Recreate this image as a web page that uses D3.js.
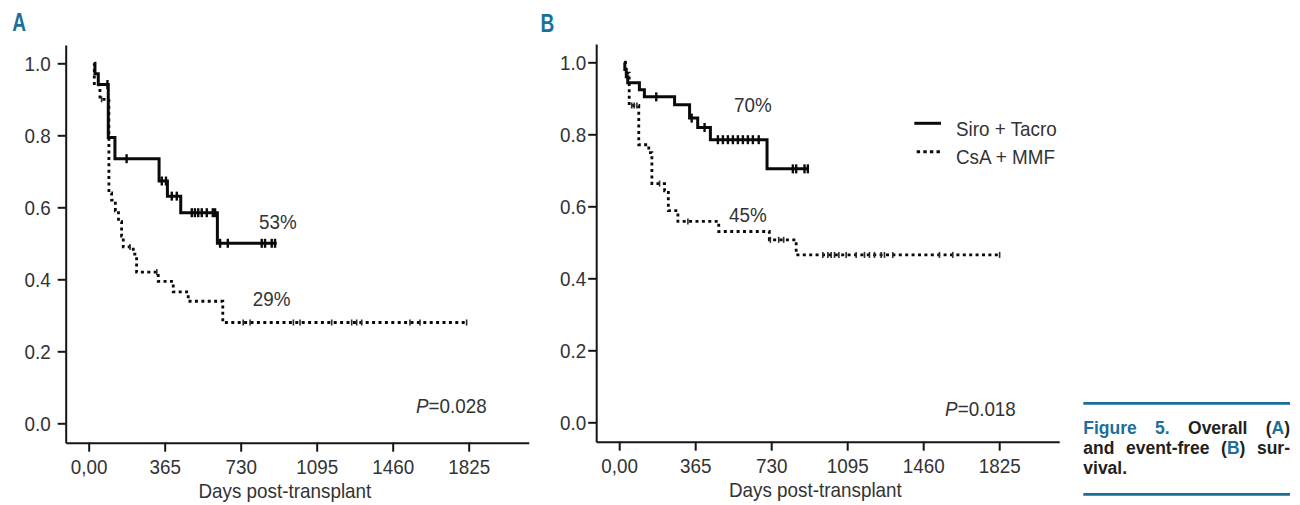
<!DOCTYPE html>
<html>
<head>
<meta charset="utf-8">
<script src="https://cdn.jsdelivr.net/npm/d3@7"></script>
<style>
  body { margin: 0; background: #fff; }
  svg { display: block; }
  text { font-family: 'Liberation Sans', Arial, Helvetica, sans-serif; }
</style>
</head>
<body>
<svg id="fig" width="1300" height="505"></svg>
<script>
// ---------- axis ticks ----------
const dayTicks = [0, 365, 730, 1095, 1460, 1825];
const dayTickLabels = ["0,00", "365", "730", "1095", "1460", "1825"];
const survTicks = [0, 0.2, 0.4, 0.6, 0.8, 1.0];
const survTickLabels = ["0.0", "0.2", "0.4", "0.6", "0.8", "1.0"];

// ---------- A: overall survival (Kaplan-Meier steps) ----------
// times: day at which each level starts; surv: survival level from that day on
const osSiroTimes = [28, 30, 46, 94, 126, 338, 378, 442, 618];
const osSiroSurv  = [1.0, 0.971, 0.941, 0.794, 0.735, 0.673, 0.631, 0.585, 0.50];
const osSiroLast  = 903;
const osSiroCensored = [90, 182, 351, 371, 399, 423, 495, 510, 526, 543, 567, 596, 607, 631, 668, 831, 847, 879, 895];

const osCsaTimes = [24, 27, 54, 97, 110, 128, 143, 158, 166, 214, 230, 334, 406, 478, 644];
const osCsaSurv  = [1.0, 0.94, 0.90, 0.64, 0.62, 0.59, 0.56, 0.52, 0.49, 0.47, 0.42, 0.394, 0.365, 0.339, 0.28];
const osCsaLast  = 1815;
const osCsaCensored = [62, 198, 327, 742, 775, 983, 1015, 1167, 1263, 1287, 1311, 1543, 1591, 1815];

// ---------- B: event-free survival ----------
const efsSiroTimes = [25, 27, 34, 41, 97, 121, 266, 338, 377, 438, 710];
const efsSiroSurv  = [1.0, 0.98, 0.96, 0.943, 0.924, 0.904, 0.882, 0.845, 0.819, 0.785, 0.704];
const efsSiroLast  = 906;
const efsSiroCensored = [178, 348, 410, 474, 498, 522, 546, 570, 594, 618, 642, 670, 834, 850, 890, 906];

const efsCsaTimes = [24, 30, 48, 94, 142, 157, 218, 236, 282, 478, 721, 850];
const efsCsaSurv  = [1.0, 0.97, 0.88, 0.771, 0.749, 0.663, 0.643, 0.588, 0.558, 0.530, 0.507, 0.465];
const efsCsaLast  = 1827;
const efsCsaCensored = [60, 72, 85, 194, 330, 726, 766, 790, 978, 1002, 1018, 1034, 1055, 1090, 1138, 1178, 1202, 1226, 1258, 1274, 1314, 1538, 1602, 1827];

const groupNames = ["Siro + Tacro", "CsA + MMF"];

// ---------- styling ----------
const INK = "#333";
const AXIS = "#151515";
const CURVE = "#0a0a0a";
const BLUE = "#1b6f9a";
const CAPTION_INK = "#231f20";
const FS = 20.5;      // base font size
const SX = 0.92;      // horizontal squeeze for a condensed look

const svg = d3.select("#fig");
svg.append("rect").attr("width", 1300).attr("height", 505).attr("fill", "#fff");

// common frame geometry (panel A coordinates; B is shifted)
const frame = { left: 65.7, right: 528.7, zeroX: 88.7, top: 45, bottom: 442.7, zeroY: 423.3, pxPerDay: 380 / 1825, pxPerUnit: 360 };

const panels = [
  {
    letter: "A", dx: 0, dy: 0, yLabelGap: 15, letterPos: [12.3, 30.7],
    series: [
      { times: osSiroTimes, surv: osSiroSurv, last: osSiroLast, cens: osSiroCensored, dotted: false },
      { times: osCsaTimes, surv: osCsaSurv, last: osCsaLast, cens: osCsaCensored, dotted: true }
    ],
    notes: [ { text: "53%", day: 818, s: 0.539 }, { text: "29%", day: 788, s: 0.326 } ],
    pval: { text: "=0.028", day: 1572, s: 0.029 },
    legend: false
  },
  {
    letter: "B", dx: 530.5, dy: -1, yLabelGap: 10, letterPos: [540.5, 32.4],
    series: [
      { times: efsSiroTimes, surv: efsSiroSurv, last: efsSiroLast, cens: efsSiroCensored, dotted: false },
      { times: efsCsaTimes, surv: efsCsaSurv, last: efsCsaLast, cens: efsCsaCensored, dotted: true }
    ],
    notes: [ { text: "70%", day: 551, s: 0.861 }, { text: "45%", day: 527, s: 0.557 } ],
    pval: { text: "=0.018", day: 1565, s: 0.0175 },
    legend: true
  }
];

function squeezedText(g, x, y, str, anchor) {
  return g.append("text")
    .attr("transform", `translate(${x},${y}) scale(${SX},1)`)
    .attr("text-anchor", anchor || "start")
    .attr("font-size", FS)
    .attr("fill", INK)
    .text(str);
}

function levelAt(times, surv, t) {
  let v = surv[0];
  for (let i = 0; i < times.length; i++) if (times[i] <= t) v = surv[i];
  return v;
}

panels.forEach(p => {
  const g = svg.append("g");
  const x = d3.scaleLinear()
    .domain([(frame.left - frame.zeroX) / frame.pxPerDay, (frame.right - frame.zeroX) / frame.pxPerDay])
    .range([frame.left + p.dx, frame.right + p.dx]);
  const y = d3.scaleLinear()
    .domain([(frame.zeroY - frame.bottom) / frame.pxPerUnit, (frame.zeroY - frame.top) / frame.pxPerUnit])
    .range([frame.bottom + p.dy, frame.top + p.dy]);

  // panel letter
  g.append("text")
    .attr("transform", `translate(${p.letterPos[0]},${p.letterPos[1]}) scale(0.72,1)`)
    .attr("font-size", 26.5).attr("font-weight", "bold").attr("fill", BLUE)
    .text(p.letter);

  // x axis
  const xa = g.append("g")
    .attr("transform", `translate(0,${y.range()[0]})`)
    .call(d3.axisBottom(x).tickValues(dayTicks).tickFormat((d, i) => dayTickLabels[i]).tickSize(9).tickSizeOuter(0));
  xa.select(".domain").attr("stroke", AXIS).attr("stroke-width", 2);
  xa.selectAll(".tick line").attr("stroke", AXIS).attr("stroke-width", 2);
  xa.selectAll(".tick text")
    .attr("y", 31).attr("dy", 0)
    .attr("transform", `scale(${SX},1)`)
    .attr("font-size", FS).attr("font-family", "'Liberation Sans', Arial, sans-serif").attr("fill", INK);

  // y axis
  const ya = g.append("g")
    .attr("transform", `translate(${x.range()[0]},0)`)
    .call(d3.axisLeft(y).tickValues(survTicks).tickFormat((d, i) => survTickLabels[i]).tickSize(8).tickSizeOuter(0));
  ya.select(".domain").attr("stroke", AXIS).attr("stroke-width", 2);
  ya.selectAll(".tick line").attr("stroke", AXIS).attr("stroke-width", 2);
  ya.selectAll(".tick text")
    .attr("x", -p.yLabelGap / SX).attr("dy", "0.36em")
    .attr("transform", `scale(${SX},1)`)
    .attr("font-size", FS).attr("font-family", "'Liberation Sans', Arial, sans-serif").attr("fill", INK);

  // x axis title
  squeezedText(g, x(942), y.range()[0] + 55, "Days post-transplant", "middle");

  // survival curves
  const line = d3.line().x(d => x(d[0])).y(d => y(d[1])).curve(d3.curveStepAfter);
  p.series.forEach(s => {
    const pts = s.times.map((t, i) => [t, s.surv[i]]);
    pts.push([s.last, s.surv[s.surv.length - 1]]);
    const path = g.append("path").datum(pts)
      .attr("d", line).attr("fill", "none").attr("stroke", CURVE);
    if (s.dotted) {
      path.attr("stroke-width", 2.8).attr("stroke-dasharray", "3 3.4");
    } else {
      path.attr("stroke-width", 3).attr("stroke-linejoin", "miter");
    }
    // censoring ticks
    g.append("g").selectAll("line").data(s.cens).join("line")
      .attr("x1", d => x(d)).attr("x2", d => x(d))
      .attr("y1", d => y(levelAt(s.times, s.surv, d)) - (s.dotted ? 3 : 4.5))
      .attr("y2", d => y(levelAt(s.times, s.surv, d)) + (s.dotted ? 3 : 4.5))
      .attr("stroke", s.dotted ? "#2a2a2a" : CURVE)
      .attr("stroke-width", s.dotted ? 1.6 : 2.4);
  });

  // percentage notes
  p.notes.forEach(n => squeezedText(g, x(n.day), y(n.s), n.text, "start"));

  // log-rank p value
  const pt = squeezedText(g, x(p.pval.day), y(p.pval.s), "", "start");
  pt.append("tspan").attr("font-style", "italic").text("P");
  pt.append("tspan").text(p.pval.text);

  // legend
  if (p.legend) {
    const lx = x.range()[0] + 318.1;
    const lg = g.append("g");
    const rows = [ { y: 123.3, dotted: false }, { y: 151.7, dotted: true } ];
    rows.forEach((r, i) => {
      const ly = r.y + p.dy + 1;
      lg.append("line")
        .attr("x1", r.dotted ? lx + 2.4 : lx).attr("x2", lx + 26.7)
        .attr("y1", ly).attr("y2", ly)
        .attr("stroke", CURVE).attr("stroke-width", 3)
        .attr("stroke-dasharray", r.dotted ? "3.4 3.2" : null);
      squeezedText(lg, lx + 41.7, ly + 12.5, groupNames[i], "start");
    });
  }
});

// ---------- figure caption ----------
const cap = svg.append("g");
const capX0 = 1083.3, capX1 = 1290;
cap.append("line").attr("x1", capX0).attr("x2", capX1).attr("y1", 403.3).attr("y2", 403.3)
  .attr("stroke", BLUE).attr("stroke-width", 2.7);
cap.append("line").attr("x1", capX0).attr("x2", capX1).attr("y1", 494.3).attr("y2", 494.3)
  .attr("stroke", BLUE).attr("stroke-width", 2.7);

const capLines = [
  { y: 434.3, justify: true, words: [ [["Figure", BLUE]], [["5.", BLUE]], [["Overall", CAPTION_INK]], [["(", CAPTION_INK], ["A", BLUE], [")", CAPTION_INK]] ] },
  { y: 454.2, justify: true, words: [ [["and", CAPTION_INK]], [["event-free", CAPTION_INK]], [["(", CAPTION_INK], ["B", BLUE], [")", CAPTION_INK]], [["sur-", CAPTION_INK]] ] },
  { y: 474.0, justify: false, words: [ [["vival.", CAPTION_INK]] ] }
];
capLines.forEach(l => {
  const nodes = l.words.map(w => {
    const t = cap.append("text").attr("y", l.y).attr("x", 0)
      .attr("font-size", 17.5).attr("font-weight", "bold");
    w.forEach(seg => t.append("tspan").attr("fill", seg[1]).text(seg[0]));
    return t;
  });
  const widths = nodes.map(n => n.node().getComputedTextLength());
  const total = d3.sum(widths);
  const gap = (l.justify && nodes.length > 1) ? (capX1 - capX0 - total) / (nodes.length - 1) : 5;
  let cx = capX0;
  nodes.forEach((n, i) => { n.attr("x", cx); cx += widths[i] + gap; });
});
</script>
</body>
</html>
